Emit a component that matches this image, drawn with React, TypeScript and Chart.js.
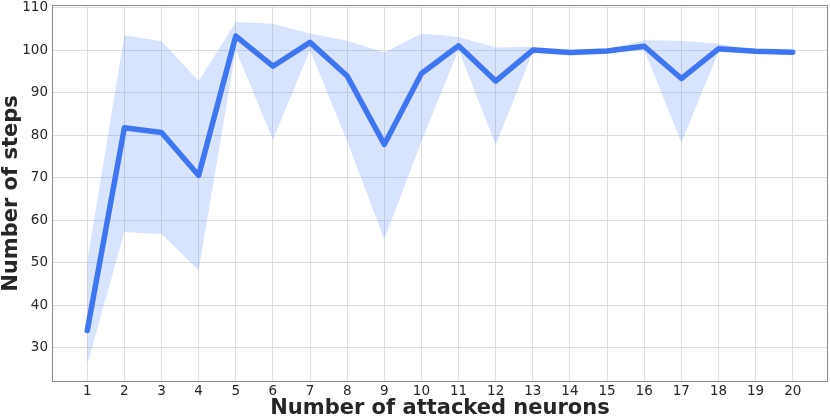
import React, { useEffect, useRef } from "react";
import { Chart, registerables } from "chart.js";

Chart.register(...registerables);

const neurons = [1, 2, 3, 4, 5, 6, 7, 8, 9, 10, 11, 12, 13, 14, 15, 16, 17, 18, 19, 20];
const meanSteps = [34.0, 81.7, 80.6, 70.5, 103.3, 96.2, 101.8, 93.9, 77.8, 94.5, 101.0, 92.7, 100.0, 99.4, 99.8, 100.9, 93.3, 100.3, 99.7, 99.5];
const upperSteps = [50.3, 103.5, 102.1, 92.7, 106.6, 106.2, 103.9, 102.2, 99.4, 103.9, 103.1, 100.6, 100.8, 100.0, 100.3, 102.3, 102.2, 101.5, 100.0, 99.6];
const lowerSteps = [26.0, 57.2, 56.7, 48.2, 100.0, 78.9, 100.0, 78.5, 55.5, 78.5, 100.0, 77.7, 99.5, 99.0, 99.3, 100.0, 78.2, 99.5, 99.4, 99.4];
const yTickValues = [30, 40, 50, 60, 70, 80, 90, 100, 110];

const FONT = "'DejaVu Sans', sans-serif";
const TEXT = "#262626";

const frame = {
  id: "frame",
  afterDatasetsDraw(chart: any) {
    const { ctx, chartArea } = chart;
    ctx.save();
    ctx.strokeStyle = "#8a8a8a";
    ctx.lineWidth = 1;
    ctx.strokeRect(
      Math.round(chartArea.left) + 0.5,
      Math.round(chartArea.top) + 0.5,
      Math.round(chartArea.right - chartArea.left) - 1,
      Math.round(chartArea.bottom - chartArea.top) - 1
    );
    ctx.restore();
  },
};

export default function App() {
  const ref = useRef<HTMLCanvasElement | null>(null);
  useEffect(() => {
    if (!ref.current) return;
    const pts = (arr: number[]) => neurons.map((n, i) => ({ x: n, y: arr[i] }));
    const chart = new Chart(ref.current, {
      type: "line",
      data: {
        datasets: [
          {
            data: pts(lowerSteps),
            borderWidth: 0,
            pointRadius: 0,
            fill: false,
            borderColor: "rgba(0,0,0,0)",
          },
          {
            data: pts(upperSteps),
            borderWidth: 0,
            pointRadius: 0,
            fill: "-1",
            borderColor: "rgba(0,0,0,0)",
            backgroundColor: "rgba(59,118,246,0.2)",
          },
          {
            data: pts(meanSteps),
            borderWidth: 5.5,
            borderColor: "#3f76f1",
            pointRadius: 0,
            fill: false,
            borderCapStyle: "round",
            borderJoinStyle: "round",
          },
        ],
      },
      options: {
        animation: false,
        responsive: true,
        maintainAspectRatio: false,
        layout: { padding: { top: 5, right: 2, left: 0, bottom: 0 } },
        plugins: { legend: { display: false }, tooltip: { enabled: false } },
        scales: {
          x: {
            type: "linear",
            min: 0.05,
            max: 20.95,
            afterFit: (s: any) => {
              s.height = 36;
              s.paddingLeft = 0;
              s.paddingRight = 0;
            },
            afterBuildTicks: (s: any) => {
              s.ticks = neurons.map((v) => ({ value: v }));
            },
            ticks: {
              includeBounds: false,
              stepSize: 1,
              padding: 1,
              color: TEXT,
              font: { family: FONT, size: 13.5 },
              maxRotation: 0,
              autoSkip: false,
            },
            grid: { color: "#dedede", lineWidth: 1, drawTicks: false },
            border: { display: false },
            title: {
              display: true,
              text: "Number of attacked neurons",
              color: TEXT,
              font: { family: FONT, size: 21, weight: "bold", lineHeight: 0.9 },
              padding: { top: 0, bottom: 0 },
            },
          },
          y: {
            min: 21.9,
            max: 110.6,
            afterFit: (s: any) => {
              s.width = 52;
              s.paddingTop = 0;
              s.paddingBottom = 0;
            },
            afterBuildTicks: (s: any) => {
              s.ticks = yTickValues.map((v) => ({ value: v }));
            },
            ticks: {
              includeBounds: false,
              stepSize: 10,
              padding: 4,
              color: TEXT,
              font: { family: FONT, size: 13.5 },
            },
            grid: { color: "#dedede", lineWidth: 1, drawTicks: false },
            border: { display: false },
            title: {
              display: true,
              text: "Number of steps",
              color: TEXT,
              font: { family: FONT, size: 21, weight: "bold", lineHeight: 1.1 },
              padding: { top: 0, bottom: 0 },
            },
          },
        },
      },
      plugins: [frame],
    });
    return () => chart.destroy();
  }, []);
  return (
    <div style={{ position: "absolute", left: 0, top: 0, width: 830, height: 418 }}>
      <canvas ref={ref} />
    </div>
  );
}
